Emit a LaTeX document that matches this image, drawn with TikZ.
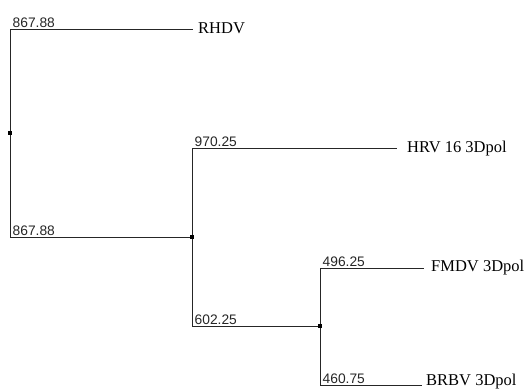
\documentclass[tikz,border=0pt]{standalone}
\usepackage{fontspec}
\setmainfont{Liberation Serif}
\newfontfamily\numfont{Liberation Sans}
\begin{document}
\begin{tikzpicture}[x=1pt,y=-1pt,
  branch/.style={draw=black!85, line width=0.9pt},
  junction/.style={fill=black, minimum size=4.5pt, inner sep=0pt, draw=none, rectangle},
  leaflabel/.style={anchor=base west, inner sep=0pt, font=\fontsize{16.5}{18}\selectfont},
  lenlabel/.style={anchor=base west, inner sep=0pt, font=\numfont\fontsize{13.8}{15}\selectfont, text=black!85}]
\useasboundingbox (0,0) rectangle (526,389);
% junctions
\coordinate (r) at (10,133);
\coordinate (rt) at (10,29);
\coordinate (rb) at (10,237);
\coordinate (n2) at (192,237);
\coordinate (n2t) at (192,148);
\coordinate (n2b) at (192,326);
\coordinate (n3) at (320,326);
\coordinate (n3t) at (320,268);
\coordinate (n3b) at (320,385);
% leaf ends
\coordinate (eRHDV) at (193,29);
\coordinate (eHRV) at (397,148);
\coordinate (eFMDV) at (424,268);
\coordinate (eBRBV) at (422,385);
% branches
\draw[branch] (rt) -- (rb);
\draw[branch] (rt) -- (eRHDV);
\draw[branch] (rb) -- (n2);
\draw[branch] (n2t) -- (n2b);
\draw[branch] (n2t) -- (eHRV);
\draw[branch] (n2b) -- (n3);
\draw[branch] (n3t) -- (n3b);
\draw[branch] (n3t) -- (eFMDV);
\draw[branch] (n3b) -- (eBRBV);
% junction markers
\node[junction] (jr) at (r) {};
\node[junction] (j2) at (n2) {};
\node[junction] (j3) at (n3) {};
% leaf labels
\node[leaflabel] (lRHDV) at ([shift={(5,4)}]eRHDV) {RHDV};
\node[leaflabel] (lHRV) at ([shift={(10,4)}]eHRV) {HRV 16 3Dpol};
\node[leaflabel] (lFMDV) at ([shift={(7,3.5)}]eFMDV) {FMDV 3Dpol};
\node[leaflabel] (lBRBV) at ([shift={(4,0.3)}]eBRBV) {BRBV 3Dpol};
% branch length labels
\node[lenlabel] (b1) at ([shift={(2.5,-2)}]rt) {867.88};
\node[lenlabel] (b2) at ([shift={(2.5,-2)}]rb) {867.88};
\node[lenlabel] (b3) at ([shift={(2.5,-2)}]n2t) {970.25};
\node[lenlabel] (b4) at ([shift={(2.5,-2)}]n2b) {602.25};
\node[lenlabel] (b5) at ([shift={(2.5,-2)}]n3t) {496.25};
\node[lenlabel] (b6) at ([shift={(2.5,-2)}]n3b) {460.75};
\end{tikzpicture}
\end{document}
